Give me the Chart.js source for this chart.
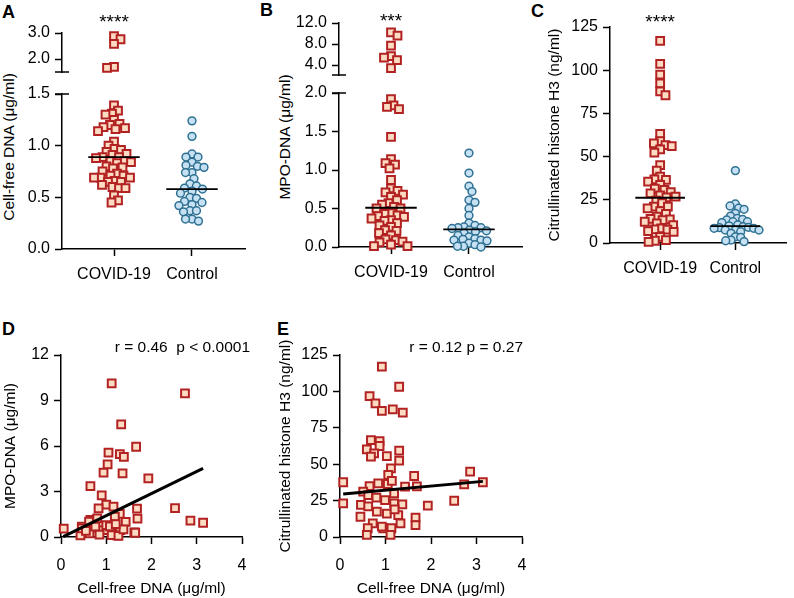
<!DOCTYPE html>
<html><head><meta charset="utf-8">
<script src="https://cdn.jsdelivr.net/npm/chart.js@4.4.0/dist/chart.umd.min.js"></script>
<style>
html,body{margin:0;padding:0;background:#fff;}
#page{position:relative;width:794px;height:598px;overflow:hidden;font-family:"Liberation Sans",Arial,Helvetica,sans-serif;color:#000;}
canvas{position:absolute;}
.lbl{position:absolute;font-weight:bold;font-size:18px;line-height:18px;}
.ytitle{position:absolute;font-size:15.5px;line-height:18px;white-space:nowrap;transform:translate(-50%,-50%) rotate(-90deg);}
</style></head><body>
<div id="page">
<div class="lbl" style="left:2px;top:3px">A</div>
<div class="lbl" style="left:260px;top:1px">B</div>
<div class="lbl" style="left:531px;top:2px">C</div>
<div class="lbl" style="left:2px;top:320px">D</div>
<div class="lbl" style="left:277px;top:320px">E</div>
<div class="ytitle" style="left:9px;top:147px">Cell-free DNA (μg/ml)</div>
<div class="ytitle" style="left:285px;top:137px">MPO-DNA (μg/ml)</div>
</div>
<script>
// ---------------- data ----------------
const categories = ['COVID-19', 'Control'];

const cfdnaCovid = [2.88, 2.76, 2.58, 1.70, 1.66, 1.39, 1.34, 1.31, 1.30, 1.25, 1.21, 1.20, 1.18, 1.17, 1.16,
  1.14, 1.04, 1.00, 0.97, 0.96, 0.94, 0.92, 0.91, 0.89, 0.89, 0.88, 0.85, 0.85, 0.84, 0.83, 0.80, 0.79, 0.78,
  0.75, 0.73, 0.71, 0.71, 0.69, 0.69, 0.69, 0.66, 0.65, 0.65, 0.62, 0.60, 0.59, 0.59, 0.52, 0.47, 0.45];
const cfdnaControl = [1.24, 1.09, 0.92, 0.89, 0.89, 0.84, 0.81, 0.80, 0.79, 0.74, 0.74, 0.68, 0.63, 0.61, 0.59,
  0.58, 0.56, 0.54, 0.50, 0.49, 0.46, 0.45, 0.43, 0.42, 0.37, 0.37, 0.36, 0.29, 0.29, 0.27];
const cfdnaMedian = [0.89, 0.58];

const mpoCovid = [10.2, 9.6, 7.7, 5.7, 5.4, 4.95, 3.4, 1.92, 1.84, 1.82, 1.79, 1.43, 1.14, 1.09, 1.07, 1.02, 0.87,
  0.76, 0.73, 0.71, 0.68, 0.65, 0.61, 0.57, 0.55, 0.52, 0.50, 0.50, 0.44, 0.43, 0.41, 0.40, 0.39, 0.37, 0.35,
  0.34, 0.31, 0.28, 0.26, 0.22, 0.21, 0.18, 0.15, 0.10, 0.09, 0.07, 0.06, 0.03, 0.01, 0.01];
const mpoControl = [1.22, 0.96, 0.79, 0.72, 0.61, 0.58, 0.50, 0.41, 0.31, 0.28, 0.26, 0.25, 0.25, 0.24, 0.22,
  0.21, 0.20, 0.18, 0.15, 0.13, 0.11, 0.10, 0.09, 0.09, 0.08, 0.05, 0.03, 0.01, 0.01, 0.00];
const mpoMedian = [0.51, 0.23];

const h3Covid = [117, 103.6, 97.4, 92.4, 87.8, 85.5, 63.1, 59.0, 57.7, 56.7, 56.1, 54.2, 52.3, 45.1, 41.9, 38.4,
  36.8, 36.5, 35.5, 33.6, 31.5, 30.7, 29.5, 28.7, 27.6, 26.9, 26.4, 24.5, 23.0, 21.0, 21.0, 20.1, 18.5, 16.8,
  15.2, 13.9, 13.7, 13.3, 12.3, 11.4, 10.4, 8.5, 7.9, 7.8, 6.9, 6.5, 3.6, 1.7, 1.3, 0.6];
const h3Control = [41.9, 22.6, 21.4, 20.1, 19.5, 17.2, 15.6, 14.2, 13.7, 13.3, 12.3, 12.3, 11.8, 10.5, 9.9, 9.4,
  9.1, 8.9, 8.5, 8.5, 7.5, 7.5, 7.5, 6.5, 5.6, 3.6, 3.3, 1.7, 1.3, 0.8];
const h3Median = [26.2, 9.8];

const corrD_cfdna = [1.12, 2.74, 1.33, 1.66, 1.05, 1.30, 1.39, 1.03, 0.94, 1.36, 1.93, 0.65, 0.90, 1.00, 0.83,
  1.16, 1.68, 2.52, 0.65, 0.80, 1.19, 1.30, 1.69, 1.43, 2.86, 3.14, 0.06, 0.46, 0.75, 0.90, 0.63, 1.12, 1.62,
  1.31, 0.43, 1.24, 1.02, 1.19, 0.62, 0.46, 1.12, 1.27, 1.38, 1.64, 0.76, 1.00, 0.55, 0.85, 1.08, 1.21];
const corrD_mpo = [10.13, 9.47, 7.43, 5.95, 5.56, 5.47, 5.29, 4.79, 4.24, 4.20, 3.87, 3.36, 2.75, 2.13, 1.89,
  2.00, 1.87, 1.91, 1.12, 1.23, 1.12, 1.52, 1.21, 0.99, 1.08, 0.94, 0.55, 0.68, 0.60, 0.46, 0.24, 0.24, 0.31,
  0.46, 0.11, 0.11, 0.46, 1.34, 1.01, 0.57, 0.13, 0.07, 0.51, 0.28, 0.68, 0.79, 0.40, 0.15, 0.70, 0.85];
const fitD_x = [0.05, 3.14];
const fitD_y = [0.02, 4.53];

const corrE_cfdna = [0.92, 1.30, 0.65, 0.78, 0.92, 1.16, 1.38, 0.68, 0.87, 0.87, 0.59, 0.75, 0.68, 1.03, 1.30,
  1.30, 1.12, 1.06, 1.63, 2.86, 0.07, 0.84, 0.65, 1.05, 1.14, 1.43, 1.69, 2.73, 3.14, 0.51, 1.19, 0.62, 0.99,
  0.07, 0.46, 0.62, 1.19, 1.37, 1.93, 2.51, 0.81, 1.03, 1.28, 0.45, 1.66, 1.33, 0.72, 1.66, 0.61, 0.95, 1.13,
  0.59, 1.11, 0.92, 0.80, 1.20];
const corrE_h3 = [117, 103.2, 96.8, 91.8, 86.7, 87.7, 85.4, 66.6, 65.9, 62.5, 60.2, 57.5, 55.2, 55.6, 59.3,
  52.4, 47.2, 42.6, 41.9, 44.9, 37.6, 36.9, 35.0, 36.4, 38.6, 34.6, 34.8, 36.2, 37.6, 31.1, 30.0, 28.8, 25.4,
  23.1, 22.0, 21.0, 23.1, 22.4, 21.5, 24.9, 17.4, 16.0, 15.1, 13.9, 13.3, 9.4, 9.4, 8.2, 6.0, 6.0, 6.0,
  1.4, 1.4, 7.1, 27.0, 19.0];
const fitE_x = [0.07, 3.14];
const fitE_y = [29.5, 38.2];

const statsA = '****', statsB = '***', statsC = '****';
const corrTextD = 'r = 0.46  p < 0.0001';
const corrTextE = 'r = 0.12 p = 0.27';

const ticksA_low = [0, 0.5, 1.0, 1.5];
const ticksA_high = [2.0, 3.0];
const ticksB_low = [0, 0.5, 1.0, 1.5, 2.0];
const ticksB_high = [4.0, 8.0, 12.0];
const ticksC = [0, 25, 50, 75, 100, 125];
const ticksD_y = [0, 3, 6, 9, 12];
const ticksE_y = [0, 25, 50, 75, 100, 125];
const ticksDE_x = [0, 1, 2, 3, 4];
const catTicks = [1, 2];

// ---------------- style ----------------
const FONT = '"Liberation Sans", Arial, Helvetica, sans-serif';
const SQ = {pointStyle: 'rect', pointRadius: 5.5, pointBackgroundColor: '#FDDCC3', pointBorderColor: '#B22222', pointBorderWidth: 2, showLine: false, clip: false};
const CI = {pointStyle: 'circle', pointRadius: 3.9, pointBackgroundColor: '#C7E1F4', pointBorderColor: '#2F7192', pointBorderWidth: 1.5, showLine: false, clip: false};

const page = document.getElementById('page');

function zeroPad(s) { s.paddingLeft = 0; s.paddingRight = 0; s.paddingTop = 0; s.paddingBottom = 0; }

function scaleOpts(o) {
  const disp = o.display !== false;
  return {
    type: 'linear', display: disp, min: o.min, max: o.max,
    afterBuildTicks: s => { s.ticks = o.ticks.map(v => ({value: v})); },
    afterFit: s => { if (disp) { if (o.horizontal) s.height = o.fixed; else s.width = o.fixed; } zeroPad(s); },
    border: {display: true, color: '#000', width: 1.5},
    grid: {drawOnChartArea: false, drawTicks: true, tickLength: 7, tickColor: '#000', tickWidth: 1.5},
    ticks: {color: '#000', font: {family: FONT, size: 16}, padding: o.labelPad ?? 5, autoSkip: false, maxRotation: 0, callback: o.fmt},
    title: o.title ? {display: true, text: o.title, color: '#000', font: {family: FONT, size: 15.5}, padding: o.titlePad} : {display: false}
  };
}

const extras = {
  id: 'extras',
  afterDraw(chart, args, opts) {
    const ctx = chart.ctx, ca = chart.chartArea;
    ctx.save();
    ctx.fillStyle = '#000'; ctx.strokeStyle = '#000';
    if (opts.stars) {
      ctx.font = '19px ' + FONT; ctx.textAlign = 'center'; ctx.textBaseline = 'alphabetic';
      ctx.fillText(opts.stars, chart.scales.x.getPixelForValue(1), opts.starsY);
    }
    if (opts.corr) {
      ctx.font = '15.5px ' + FONT; ctx.textAlign = 'right'; ctx.textBaseline = 'middle';
      ctx.fillText(opts.corr, ca.right + opts.corrDx, ca.top + opts.corrDy);
    }
    if (opts.breakAt) {
      const y = opts.breakAt === 'top' ? ca.top : ca.bottom;
      ctx.lineWidth = 1.5; ctx.beginPath();
      ctx.moveTo(ca.left - 7, y); ctx.lineTo(ca.left + 7, y); ctx.stroke();
    }
    ctx.restore();
  }
};
Chart.register(extras);

function makeChart(box, area, xOpt, yOpt, datasets, plug) {
  const cv = document.createElement('canvas');
  cv.width = box.w; cv.height = box.h;
  cv.style.left = box.x + 'px'; cv.style.top = box.y + 'px';
  cv.style.width = box.w + 'px'; cv.style.height = box.h + 'px';
  page.appendChild(cv);
  const xDisp = xOpt.display !== false;
  xOpt.horizontal = true; xOpt.fixed = box.y + box.h - area.b;
  yOpt.fixed = area.l - box.x;
  return new Chart(cv, {
    type: 'scatter',
    data: {datasets},
    options: {
      responsive: false, animation: false, devicePixelRatio: 1,
      layout: {padding: {left: 0, top: area.t - box.y, right: box.x + box.w - area.r, bottom: xDisp ? 0 : box.y + box.h - area.b}},
      plugins: {legend: {display: false}, tooltip: {enabled: false}, extras: plug || {}},
      scales: {x: scaleOpts(xOpt), y: scaleOpts(yOpt)}
    }
  });
}

function medianLine(cat, v) {
  return {data: [{x: cat - 0.33, y: v}, {x: cat + 0.33, y: v}], showLine: true, borderColor: '#000', borderWidth: 1.8, pointRadius: 0, clip: false};
}

// beeswarm layout computed through the chart's own scales
function swarm(chart, values, cat, minDist) {
  const xs = chart.scales.x, ys = chart.scales.y;
  const cx = xs.getPixelForValue(cat);
  const pts = values.map(v => ({v, py: ys.getPixelForValue(v), px: cx}));
  const order = pts.slice().sort((a, b) => b.v - a.v);
  const placed = [];
  order.forEach((p, n) => {
    const side = n % 2 ? 1 : -1;
    let off = 0;
    for (let k = 0; k < 600; k++) {
      const o = k === 0 ? 0 : (k % 2 ? side : -side) * Math.ceil(k / 2) * 0.5;
      const x = cx + o;
      if (placed.every(q => (q.px - x) ** 2 + (q.py - p.py) ** 2 >= minDist * minDist)) { off = o; break; }
    }
    p.px = cx + off; placed.push(p);
  });
  return pts.map(p => ({x: xs.getValueForPixel(p.px), y: p.v}));
}

function catX() {
  return {min: 0.333, max: 2.68, ticks: catTicks, fmt: v => categories[Math.round(v) - 1], labelPad: 9};
}
const f1 = v => Number(v).toFixed(1);
const f0 = v => String(v);

function swarmPanel(ch, groups) {
  groups.forEach(g => { ch.data.datasets[g.ds].data = swarm(ch, g.values, g.cat, g.dist); });
  ch.update('none');
}

// ---------------- Panel A ----------------
const aHi = makeChart({x: 0, y: 0, w: 260, h: 82}, {l: 62, t: 33, r: 245, b: 72},
  Object.assign(catX(), {display: false}),
  {min: 1.5, max: 3.0, ticks: ticksA_high, fmt: f1},
  [Object.assign({data: []}, SQ)],
  {stars: statsA, starsY: 28, breakAt: 'bottom'});
swarmPanel(aHi, [{ds: 0, values: cfdnaCovid.filter(v => v > 1.5), cat: 1, dist: 7}]);

const aLo = makeChart({x: 0, y: 82, w: 260, h: 208}, {l: 62, t: 94, r: 245, b: 249},
  catX(),
  {min: 0, max: 1.5, ticks: ticksA_low, fmt: f1},
  [medianLine(1, cfdnaMedian[0]), medianLine(2, cfdnaMedian[1]),
   Object.assign({data: []}, SQ), Object.assign({data: []}, CI)],
  {breakAt: 'top'});
swarmPanel(aLo, [{ds: 2, values: cfdnaCovid.filter(v => v <= 1.5), cat: 1, dist: 6.5},
                 {ds: 3, values: cfdnaControl, cat: 2, dist: 6.5}]);

// ---------------- Panel B ----------------
const bHi = makeChart({x: 260, y: 0, w: 270, h: 84}, {l: 339, t: 23, r: 522, b: 75},
  Object.assign(catX(), {display: false}),
  {min: 2.1, max: 12, ticks: ticksB_high, fmt: f1},
  [Object.assign({data: []}, SQ)],
  {stars: statsB, starsY: 27, breakAt: 'bottom'});
swarmPanel(bHi, [{ds: 0, values: mpoCovid.filter(v => v > 2.05), cat: 1, dist: 7}]);

const bLo = makeChart({x: 260, y: 84, w: 270, h: 206}, {l: 339, t: 93, r: 522, b: 247},
  catX(),
  {min: 0, max: 2.0, ticks: ticksB_low, fmt: f1},
  [medianLine(1, mpoMedian[0]), medianLine(2, mpoMedian[1]),
   Object.assign({data: []}, SQ), Object.assign({data: []}, CI)],
  {breakAt: 'top'});
swarmPanel(bLo, [{ds: 2, values: mpoCovid.filter(v => v <= 2.05), cat: 1, dist: 6.5},
                 {ds: 3, values: mpoControl, cat: 2, dist: 6}]);

// ---------------- Panel C ----------------
const cCh = makeChart({x: 530, y: 0, w: 264, h: 290}, {l: 610, t: 27, r: 793, b: 243},
  catX(),
  {min: 0, max: 125, ticks: ticksC, fmt: f0, title: 'Citrullinated histone H3 (ng/ml)', titlePad: {top: 15, bottom: 0}},
  [medianLine(1, h3Median[0]), medianLine(2, h3Median[1]),
   Object.assign({data: []}, SQ), Object.assign({data: []}, CI)],
  {stars: statsC, starsY: 28});
swarmPanel(cCh, [{ds: 2, values: h3Covid, cat: 1, dist: 6.5},
                 {ds: 3, values: h3Control, cat: 2, dist: 5.5}]);

// ---------------- Panel D ----------------
makeChart({x: 0, y: 300, w: 260, h: 298}, {l: 61, t: 355, r: 242, b: 537},
  {min: 0, max: 4, ticks: ticksDE_x, fmt: f0, labelPad: 12, title: 'Cell-free DNA (μg/ml)', titlePad: {top: 0, bottom: 0}},
  {min: 0, max: 12, ticks: ticksD_y, fmt: f0, title: 'MPO-DNA (μg/ml)', titlePad: {top: 1, bottom: 0}},
  [{data: fitD_x.map((x, i) => ({x, y: fitD_y[i]})), showLine: true, borderColor: '#000', borderWidth: 3, pointRadius: 0, clip: false},
   Object.assign({data: corrD_cfdna.map((x, i) => ({x, y: corrD_mpo[i]}))}, SQ)],
  {corr: corrTextD, corrDx: 8, corrDy: -7});

// ---------------- Panel E ----------------
makeChart({x: 260, y: 300, w: 270, h: 298}, {l: 340, t: 355, r: 522, b: 537},
  {min: 0, max: 4, ticks: ticksDE_x, fmt: f0, labelPad: 12, title: 'Cell-free DNA (μg/ml)', titlePad: {top: 0, bottom: 0}},
  {min: 0, max: 125, ticks: ticksE_y, fmt: f0, title: 'Citrullinated histone H3 (ng/ml)', titlePad: {top: 16, bottom: 0}},
  [{data: fitE_x.map((x, i) => ({x, y: fitE_y[i]})), showLine: true, borderColor: '#000', borderWidth: 3, pointRadius: 0, clip: false},
   Object.assign({data: corrE_cfdna.map((x, i) => ({x, y: corrE_h3[i]}))}, SQ)],
  {corr: corrTextE, corrDx: 1, corrDy: -7});
</script>
</body></html>
